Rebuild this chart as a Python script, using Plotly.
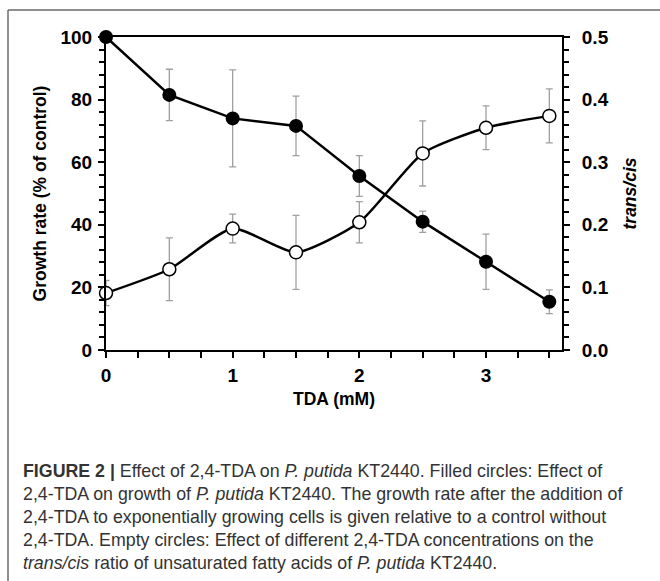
import plotly.graph_objects as go

# ---- data ----
tda_mM = [0, 0.5, 1, 1.5, 2, 2.5, 3, 3.5]
growth_rate = [100, 81.5, 74.0, 71.6, 55.6, 41.0, 28.2, 15.4]
growth_err = [0, 8.2, 15.5, 9.5, 6.5, 3.4, 8.8, 3.8]
trans_cis = [0.091, 0.129, 0.194, 0.156, 0.204, 0.314, 0.355, 0.374]
trans_cis_err = [0.02, 0.05, 0.023, 0.059, 0.033, 0.052, 0.035, 0.043]

x_ticks = [0, 1, 2, 3]
y_ticks = [0, 20, 40, 60, 80, 100]
y2_ticks = [0.0, 0.1, 0.2, 0.3, 0.4, 0.5]
y2_labels = ["0.0", "0.1", "0.2", "0.3", "0.4", "0.5"]

caption_lines = [
    "<b>FIGURE 2 |</b> Effect of 2,4-TDA on <i>P. putida</i> KT2440. Filled circles: Effect of",
    "2,4-TDA on growth of <i>P. putida</i> KT2440. The growth rate after the addition of",
    "2,4-TDA to exponentially growing cells is given relative to a control without",
    "2,4-TDA. Empty circles: Effect of different 2,4-TDA concentrations on the",
    "<i>trans/cis</i> ratio of unsaturated fatty acids of <i>P. putida</i> KT2440.",
]

W, H = 660, 581
L, R, T, B = 106, 562, 37, 350  # plot area in pixels


def px_x(px):
    return (px - L) / (R - L)


def px_y(py):
    return (B - py) / (B - T)


fig = go.Figure()

fig.add_trace(go.Scatter(
    x=tda_mM, y=trans_cis, yaxis="y2", mode="lines+markers",
    line=dict(color="black", width=2.5, shape="spline", smoothing=0.6),
    marker=dict(symbol="circle", size=13, color="white",
                line=dict(color="black", width=1.5)),
    error_y=dict(type="data", array=trans_cis_err, visible=True,
                 color="#a0a0a0", thickness=1.3, width=3.5),
    cliponaxis=False, showlegend=False,
))

fig.add_trace(go.Scatter(
    x=tda_mM, y=growth_rate, yaxis="y", mode="lines+markers",
    line=dict(color="black", width=2.5),
    marker=dict(symbol="circle", size=14, color="black"),
    error_y=dict(type="data", array=growth_err, visible=True,
                 color="#a0a0a0", thickness=1.3, width=3.5),
    cliponaxis=False, showlegend=False,
))

tickfont = dict(family="Arial, Liberation Sans, sans-serif", size=19,
                color="black", weight="bold")
titlefont = dict(family="Arial, Liberation Sans, sans-serif", size=17.5,
                 color="black")

fig.update_layout(
    width=W, height=H,
    margin=dict(l=L, r=W - R, t=T, b=H - B, autoexpand=False),
    paper_bgcolor="white", plot_bgcolor="white",
    xaxis=dict(
        range=[0, 3.6], tickvals=x_ticks, ticks="outside", ticklen=6,
        tickwidth=1.5, tickcolor="black", showgrid=False, zeroline=False,
        showline=True, linecolor="black", linewidth=2, mirror=True,
        tickfont=tickfont, ticklabelstandoff=1,
        minor=dict(dtick=0.25, tick0=0, ticks="outside", ticklen=6,
                   tickwidth=1.5, tickcolor="black", showgrid=False),
        title=dict(text="<b>TDA (mM)</b>", font=titlefont, standoff=8),
    ),
    yaxis=dict(
        range=[0, 100], tickvals=y_ticks, ticks="outside", ticklen=6,
        tickwidth=1.5, tickcolor="black", showgrid=False, zeroline=False,
        showline=True, linecolor="black", linewidth=2,
        tickfont=tickfont, ticklabelstandoff=2,
        minor=dict(dtick=4, tick0=0, ticks="outside", ticklen=5,
                   tickwidth=1.5, tickcolor="black", showgrid=False),
        title=dict(text="<b>Growth rate (% of control)</b>", font=titlefont,
                   standoff=9),
    ),
    yaxis2=dict(
        range=[0, 0.5], tickvals=y2_ticks, ticktext=y2_labels,
        overlaying="y", side="right", ticks="outside", ticklen=6,
        tickwidth=1.5, tickcolor="black", showgrid=False, zeroline=False,
        showline=True, linecolor="black", linewidth=2,
        tickfont=tickfont, ticklabelstandoff=8,
        minor=dict(dtick=0.02, tick0=0, ticks="outside", ticklen=5,
                   tickwidth=1.5, tickcolor="black", showgrid=False),
        title=dict(text="<b><i>trans/cis</i></b>", font=titlefont,
                   standoff=16),
    ),
)

# outer figure frame (left and top edges only)
frame_col = "#6a6a6a"
fig.add_shape(type="line", xref="paper", yref="paper",
              x0=px_x(8), x1=px_x(8), y0=px_y(10), y1=px_y(H + 5),
              line=dict(color=frame_col, width=1.5))
fig.add_shape(type="line", xref="paper", yref="paper",
              x0=px_x(8), x1=px_x(W + 5), y0=px_y(10), y1=px_y(10),
              line=dict(color=frame_col, width=1.5))

# caption
line_y = [471, 494, 517, 540, 563]
for txt, yy in zip(caption_lines, line_y):
    fig.add_annotation(
        text=txt, xref="paper", yref="paper", x=px_x(21), y=px_y(yy),
        xanchor="left", yanchor="middle", showarrow=False,
        font=dict(family="Liberation Sans, Arial, sans-serif", size=17.8,
                  color="#333333"),
    )

fig.write_html("out.html")
